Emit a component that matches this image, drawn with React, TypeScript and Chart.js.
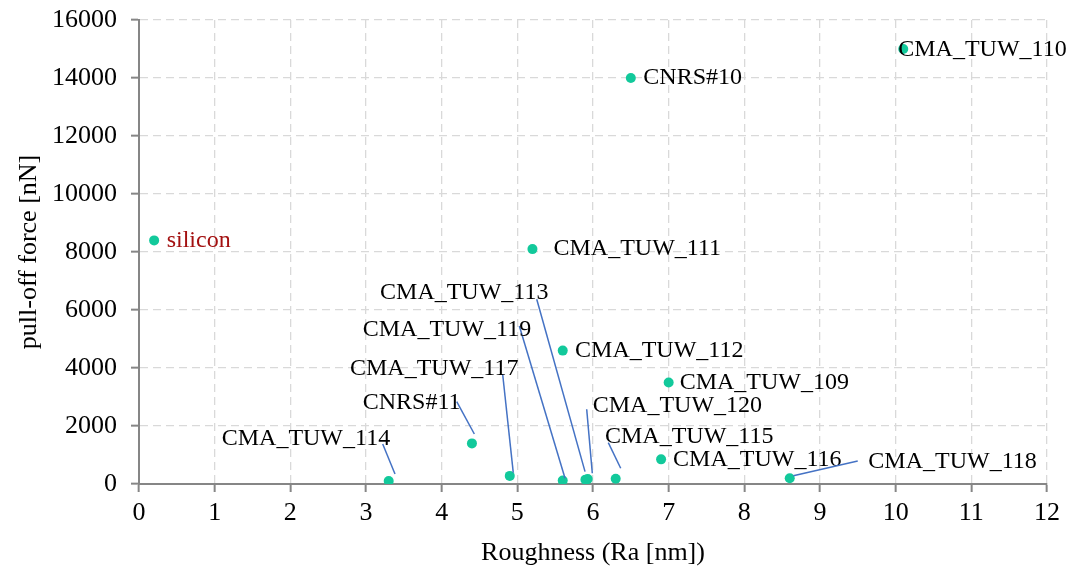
import { useEffect, useRef } from 'react';
import { Chart, registerables } from 'chart.js';

Chart.register(...registerables);

// Samples: roughness Ra [nm] vs. measured pull-off force [nN]
const sampleNames = [
  'silicon',
  'CNRS#10',
  'CMA_TUW_110',
  'CMA_TUW_111',
  'CMA_TUW_112',
  'CMA_TUW_109',
  'CMA_TUW_116',
  'CMA_TUW_118',
  'CMA_TUW_114',
  'CNRS#11',
  'CMA_TUW_117',
  'CMA_TUW_119',
  'CMA_TUW_120',
  'CMA_TUW_113',
  'CMA_TUW_115',
];
const roughnessRa = [0.2, 6.5, 10.1, 5.2, 5.6, 7.0, 6.9, 8.6, 3.3, 4.4, 4.9, 5.6, 5.93, 5.9, 6.3];
const pullOffForce = [8400, 14000, 15000, 8100, 4600, 3500, 850, 200, 100, 1400, 280, 120, 170, 150, 180];

const xTickValues = [0, 1, 2, 3, 4, 5, 6, 7, 8, 9, 10, 11, 12];
const yTickValues = [0, 2000, 4000, 6000, 8000, 10000, 12000, 14000, 16000];

const referenceSamples = ['silicon'];

// Label placement relative to its point (pixels): text left/middle,
// plus optional leader line [x1, y1, x2, y2]
type LabelPlacement = { dx: number; dy: number; leader?: [number, number, number, number] };
const labelPlacement: LabelPlacement[] = [
  { dx: 12.5, dy: 0 },
  { dx: 12.5, dy: 0 },
  { dx: -5, dy: 1 },
  { dx: 21, dy: 0 },
  { dx: 12.3, dy: 0 },
  { dx: 11, dy: 0 },
  { dx: 12, dy: 0 },
  { dx: 78.6, dy: -16.3, leader: [68, -17.2, 3.6, -2.5] },
  { dx: -167, dy: -42.5, leader: [-6, -37.1, 6.3, -7.1] },
  { dx: -109.2, dy: -40.8, leader: [-15.2, -41.7, 2.4, -9.4] },
  { dx: -159.8, dy: -107.3, leader: [-7.1, -101.6, 3.5, -3.2] },
  { dx: -200, dy: -151.3, leader: [-43.4, -154.5, 2.3, -2.2] },
  { dx: 5, dy: -73.2, leader: [-1, -69.8, 4.6, -5.8] },
  { dx: -205.4, dy: -187, leader: [-48.7, -180.4, -0.4, -8] },
  { dx: -10.7, dy: -41.9, leader: [-7.4, -36.1, 5, -10.5] },
];

const FONT_FAMILY = "'Liberation Serif', 'Times New Roman', serif";

const pointLabels = {
  id: 'pointLabels',
  afterDatasetsDraw(chart: Chart) {
    const ctx = chart.ctx;
    const meta = chart.getDatasetMeta(0);
    ctx.save();
    meta.data.forEach((el: any, i: number) => {
      const p = labelPlacement[i];
      if (!p) return;
      const { x, y } = el;
      if (p.leader) {
        const [x1, y1, x2, y2] = p.leader;
        ctx.beginPath();
        ctx.strokeStyle = '#4472c4';
        ctx.lineWidth = 1.5;
        ctx.moveTo(x + x1, y + y1);
        ctx.lineTo(x + x2, y + y2);
        ctx.stroke();
      }
      ctx.font = `24px ${FONT_FAMILY}`;
      ctx.textAlign = 'left';
      ctx.textBaseline = 'middle';
      ctx.fillStyle = referenceSamples.includes(sampleNames[i]) ? '#a31010' : '#000000';
      ctx.fillText(sampleNames[i], x + p.dx, y + p.dy);
    });
    ctx.restore();
  },
};

export default function App() {
  const canvasRef = useRef<HTMLCanvasElement | null>(null);

  useEffect(() => {
    const canvas = canvasRef.current;
    if (!canvas) return;
    const points = roughnessRa.map((x, i) => ({ x, y: pullOffForce[i] }));
    const gridOpts = {
      color: '#d9d9d9',
      lineWidth: 1.3,
      tickColor: '#868686',
      tickLength: 8,
      tickWidth: 2,
    };
    const borderOpts = { color: '#868686', width: 2, dash: [8, 5] };

    const chart = new Chart(canvas, {
      type: 'scatter',
      data: {
        datasets: [
          {
            data: points,
            pointRadius: 5,
            pointHoverRadius: 5,
            pointBackgroundColor: '#12c99b',
            pointBorderWidth: 0,
            showLine: false,
          },
        ],
      },
      options: {
        responsive: false,
        animation: false,
        layout: { padding: { top: 20, right: 26, left: 0, bottom: 0 } },
        plugins: { legend: { display: false }, tooltip: { enabled: false } },
        scales: {
          x: {
            type: 'linear',
            position: 'bottom',
            min: xTickValues[0],
            max: xTickValues[xTickValues.length - 1],
            afterBuildTicks: (s: any) => {
              s.ticks = xTickValues.map((v) => ({ value: v }));
            },
            afterFit: (s: any) => {
              s.height = 85;
              s.paddingLeft = 0;
              s.paddingRight = 0;
            },
            ticks: {
              color: '#000',
              padding: 6,
              font: { family: FONT_FAMILY, size: 26 },
            },
            grid: gridOpts,
            border: borderOpts,
            title: {
              display: true,
              text: 'Roughness (Ra [nm])',
              color: '#000',
              padding: 0,
              font: { family: FONT_FAMILY, size: 26 },
            },
          },
          y: {
            type: 'linear',
            min: yTickValues[0],
            max: yTickValues[yTickValues.length - 1],
            afterBuildTicks: (s: any) => {
              s.ticks = yTickValues.map((v) => ({ value: v }));
            },
            afterFit: (s: any) => {
              s.width = 139;
              s.paddingTop = 0;
              s.paddingBottom = 0;
            },
            ticks: {
              color: '#000',
              padding: 14,
              font: { family: FONT_FAMILY, size: 26 },
              callback: (v: any) => String(v),
            },
            grid: gridOpts,
            border: borderOpts,
            title: {
              display: true,
              text: 'pull-off force [nN]',
              color: '#000',
              padding: { top: 14, bottom: 0 },
              font: { family: FONT_FAMILY, size: 26 },
            },
          },
        },
      },
      plugins: [pointLabels],
    });
    return () => chart.destroy();
  }, []);

  return (
    <div style={{ position: 'fixed', left: 0, top: 0, width: 1073, height: 569, background: '#fff' }}>
      <canvas ref={canvasRef} width={1073} height={569} style={{ display: 'block' }} />
    </div>
  );
}
